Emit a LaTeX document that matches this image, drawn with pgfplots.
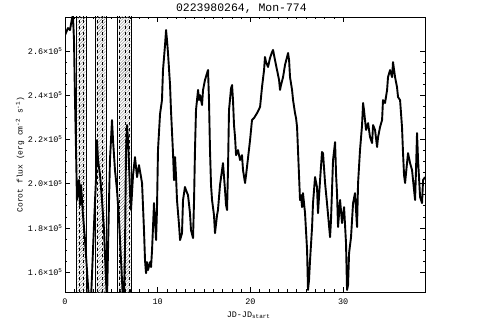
\documentclass[border=0pt]{standalone}
\usepackage{fontspec}
\setmainfont{Liberation Mono}
\usepackage{pgfplots}
\pgfplotsset{compat=1.18}
\usetikzlibrary{patterns}

\begin{document}
\begin{tikzpicture}
\path[use as bounding box] (-65bp,-35bp) rectangle (425bp,292bp);
\begin{axis}[
  at={(0,0)}, anchor=south west,
  scale only axis,
  width=360bp, height=275bp,
  xmin=0, xmax=38.83,
  ymin=1.51, ymax=2.754,
  xtick={0,10,20,30},
  minor x tick num=9,
  ytick={1.6,1.8,2.0,2.2,2.4,2.6},
  yticklabels={1.6×10\textsuperscript{5},1.8×10\textsuperscript{5},2.0×10\textsuperscript{5},2.2×10\textsuperscript{5},2.4×10\textsuperscript{5},2.6×10\textsuperscript{5}},
  minor y tick num=3,
  tick pos=both,
  tick align=inside,
  major tick length=5bp,
  minor tick length=2.5bp,
  axis line style={line width=0.8bp},
  every tick/.style={black, line width=0.6bp},
  /pgf/number format/assume math mode=true,
  tick label style={font=\fontsize{8.5}{10}\selectfont},
  xticklabel style={yshift=-3bp},
  yticklabel style={xshift=1bp},
  title={0223980264, Mon-774},
  every axis title/.style={at={(axis description cs:0.49,1.03)}, anchor=center, font=\fontsize{11.5}{13}\selectfont},
  xlabel={JD-JD\textsubscript{start}},
  every axis x label/.style={at={(axis description cs:0.51,-0.085)}, anchor=center, font=\fontsize{8.5}{10}\selectfont},
  ylabel={Corot flux (erg cm\textsuperscript{-2} s\textsuperscript{-1})},
  every axis y label/.style={at={(axis description cs:-0.125,0.5)}, rotate=90, anchor=center, font=\fontsize{8}{10}\selectfont},
]
% excluded intervals (hatched)
\addplot[draw=none, pattern=north east lines, pattern color=gray] coordinates {(1.35,1.4) (1.35,2.9) (2.2,2.9) (2.2,1.4)} -- cycle;
\addplot[draw=none, pattern=north east lines, pattern color=gray] coordinates {(3.4,1.4) (3.4,2.9) (4.35,2.9) (4.35,1.4)} -- cycle;
\addplot[draw=none, pattern=north east lines, pattern color=gray] coordinates {(5.8,1.4) (5.8,2.9) (7.05,2.9) (7.05,1.4)} -- cycle;
% interval edges
\addplot[black, line width=0.7bp] coordinates {(1.27,1.4) (1.27,2.9)};
\addplot[black, line width=0.7bp] coordinates {(2.27,1.4) (2.27,2.9)};
\addplot[black, line width=0.6bp, dashed] coordinates {(1.5,1.4) (1.5,2.9)};
\addplot[black, line width=0.6bp, dashed] coordinates {(1.95,1.4) (1.95,2.9)};
\addplot[black, line width=0.7bp] coordinates {(3.26,1.4) (3.26,2.9)};
\addplot[black, line width=0.7bp] coordinates {(4.5,1.4) (4.5,2.9)};
\addplot[black, line width=0.6bp, dashed] coordinates {(3.48,1.4) (3.48,2.9)};
\addplot[black, line width=0.6bp, dashed] coordinates {(4.0,1.4) (4.0,2.9)};
\addplot[black, line width=0.7bp] coordinates {(5.66,1.4) (5.66,2.9)};
\addplot[black, line width=0.7bp] coordinates {(7.2,1.4) (7.2,2.9)};
\addplot[black, line width=0.6bp, dashed] coordinates {(5.86,1.4) (5.86,2.9)};
\addplot[black, line width=0.6bp, dashed] coordinates {(6.45,1.4) (6.45,2.9)};
\addplot[black, line width=0.6bp, dashed] coordinates {(6.9,1.4) (6.9,2.9)};
% light curve
\addplot[black, line width=1.9bp, line join=round] coordinates {
(0,2.672) (0.32,2.704) (0.54,2.695) (0.76,2.749) (0.86,2.76) (0.97,2.650)
(1.08,2.378) (1.19,2.152) (1.29,1.926) (1.51,2.016) (1.62,1.903) (1.73,1.994)
(1.94,1.858) (2.16,1.745) (2.37,1.609) (2.59,1.47) (2.80,1.47) (3.02,1.700)
(3.24,1.926) (3.34,2.016) (3.45,2.197) (3.56,2.107) (3.78,2.039) (3.99,1.926)
(4.21,1.790) (4.42,1.564) (4.53,1.47) (4.64,1.700) (4.75,1.926) (4.85,2.107)
(5.07,2.288) (5.18,2.197) (5.39,2.062) (5.61,1.971) (5.83,1.835) (6.04,1.654)
(6.26,1.47) (6.36,1.47) (6.47,1.700) (6.58,2.152) (6.69,2.265) (6.80,2.197)
(7.01,1.971) (7.12,1.881) (7.34,2.039) (7.55,2.120) (7.77,2.030) (7.98,2.084)
(8.31,2.003) (8.52,1.790) (8.63,1.654) (8.74,1.595) (8.85,1.645) (8.95,1.609)
(9.17,1.645) (9.28,1.623) (9.39,1.700) (9.60,1.912) (9.71,1.835) (9.82,1.745)
(9.92,1.881) (10.03,2.152) (10.25,2.315) (10.46,2.378) (10.57,2.514) (10.79,2.627)
(10.90,2.695) (11.00,2.650) (11.11,2.591) (11.33,2.446) (11.43,2.333) (11.65,2.138)
(11.76,2.016) (11.87,2.120) (11.97,2.039) (12.08,1.926) (12.30,1.813) (12.41,1.745)
(12.62,1.776) (12.73,1.926) (12.94,1.985) (13.05,1.971) (13.27,1.948) (13.48,1.867)
(13.59,1.790) (13.81,1.754) (13.92,1.926) (14.02,2.152) (14.13,2.333) (14.35,2.424)
(14.46,2.378) (14.56,2.401) (14.78,2.356) (14.89,2.424) (15.10,2.469) (15.32,2.500)
(15.43,2.514) (15.53,2.378) (15.64,2.152) (15.75,1.994) (15.86,1.926) (16.07,1.858)
(16.18,1.776) (16.40,1.858) (16.50,1.881) (16.72,1.994) (16.94,2.062) (17.04,2.093)
(17.26,1.971) (17.37,1.903) (17.48,1.881) (17.58,2.062) (17.69,2.333) (17.91,2.432)
(18.02,2.446) (18.12,2.378) (18.23,2.265) (18.34,2.211) (18.45,2.129) (18.66,2.152)
(18.88,2.107) (19.09,2.129) (19.20,2.062) (19.42,2.003) (19.53,2.039) (19.74,2.116)
(19.96,2.197) (20.17,2.288) (20.39,2.297) (20.71,2.319) (21.04,2.347) (21.25,2.437)
(21.47,2.514) (21.57,2.573) (21.68,2.550) (21.90,2.528) (22.11,2.568) (22.33,2.595)
(22.44,2.605) (22.65,2.559) (22.87,2.514) (23.09,2.469) (23.19,2.424) (23.30,2.446)
(23.52,2.482) (23.73,2.537) (23.95,2.573) (24.06,2.591) (24.17,2.559) (24.27,2.482)
(24.49,2.424) (24.60,2.378) (24.81,2.319) (24.92,2.297) (25.03,2.256) (25.13,2.152)
(25.24,2.039) (25.35,1.926) (25.46,1.948) (25.57,1.894) (25.67,1.957) (25.89,1.867)
(26.11,1.700) (26.21,1.519) (26.32,1.564) (26.43,1.654) (26.65,1.804) (26.75,1.912)
(26.97,2.030) (27.18,1.985) (27.29,1.867) (27.51,2.016) (27.72,2.143) (27.83,2.138)
(28.05,2.003) (28.26,1.912) (28.59,1.758) (28.69,1.835) (28.91,2.107) (29.13,2.188)
(29.24,2.039) (29.34,1.957) (29.45,1.804) (29.67,1.926) (29.88,1.822) (30.10,1.894)
(30.31,1.731) (30.42,1.519) (30.53,1.541) (30.64,1.686) (30.85,1.758) (31.07,1.912)
(31.28,1.957) (31.50,1.804) (31.61,2.003) (31.82,2.152) (32.04,2.265) (32.15,2.365)
(32.25,2.333) (32.36,2.288) (32.47,2.243) (32.69,2.274) (32.90,2.211) (33.12,2.184)
(33.23,2.265) (33.44,2.243) (33.66,2.166) (33.77,2.211) (33.98,2.256) (34.20,2.288)
(34.30,2.378) (34.52,2.365) (34.74,2.424) (34.84,2.482) (35.06,2.514) (35.28,2.482)
(35.38,2.550) (35.60,2.482) (35.81,2.437) (35.92,2.392) (36.14,2.378) (36.35,2.256)
(36.46,2.138) (36.57,2.039) (36.68,2.003) (36.89,2.093) (37.00,2.138) (37.22,2.093)
(37.43,2.062) (37.54,2.016) (37.76,1.926) (37.86,2.062) (37.97,2.229) (38.08,2.107)
(38.30,1.939) (38.51,1.912) (38.62,2.016) (38.83,2.030)
};
\end{axis}
\end{tikzpicture}
\end{document}
